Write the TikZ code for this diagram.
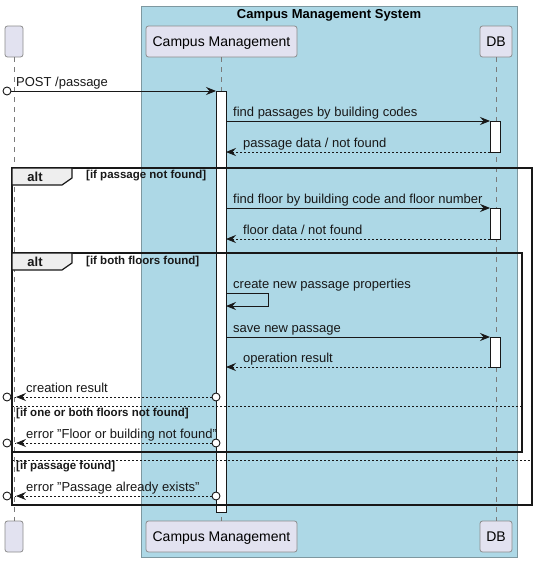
\documentclass[tikz,border=0pt]{standalone}
\usepackage{fontspec}
\setmainfont{Liberation Sans}
\usetikzlibrary{arrows.meta}
\definecolor{boxbg}{HTML}{ADD8E6}
\definecolor{boxline}{HTML}{7E98A0}
\definecolor{partfill}{HTML}{E2E2F0}
\definecolor{partline}{HTML}{8C8C8C}
\definecolor{tabfill}{HTML}{EEEEEE}
\definecolor{ink}{HTML}{181818}
\definecolor{lifeline}{HTML}{7A7A7A}

\begin{document}
\begin{tikzpicture}[x=1pt,y=-1pt,
  part/.style={draw=partline,fill=partfill,rounded corners=2.5pt,line width=0.8pt,
    inner sep=0pt,minimum height=31pt,text height=10.5pt,text depth=0pt,
    font=\fontsize{14}{16}\selectfont},
  life/.style={draw=lifeline,line width=0.8pt,dash pattern=on 5pt off 5pt},
  actbar/.style={draw=ink,fill=white,line width=0.9pt},
  msg/.style={draw=ink,line width=0.9pt,-{Stealth[length=10pt,width=8pt,inset=3.5pt]}},
  ret/.style={msg,dash pattern=on 2pt off 2pt},
  lbl/.style={anchor=base west,inner sep=0pt,font=\fontsize{13}{15}\selectfont,text=ink},
  endcirc/.style={draw=ink,fill=white,line width=0.9pt},
  frame/.style={draw=ink,line width=1.6pt},
  sep/.style={draw=ink,line width=0.9pt,dash pattern=on 2pt off 2pt},
  tab/.style={draw=ink,fill=tabfill,line width=1.2pt},
  tabtxt/.style={font=\bfseries\fontsize{13}{15}\selectfont,inner sep=0pt,text=ink},
  guard/.style={anchor=west,inner sep=0pt,font=\bfseries\fontsize{11.5}{13}\selectfont,text=ink}]
\useasboundingbox (0,0) rectangle (538,562);

% system box
\draw[fill=boxbg,draw=boxline,line width=0.8pt] (141,6) rectangle (517,557);
\node[font=\bfseries\fontsize{13}{15}\selectfont,inner sep=0pt] (systitle) at (329,15) {Campus Management System};

% participants (top and bottom)
\node[part,minimum width=18pt] (userTop) at (14,41.5) {};
\node[part,minimum width=151pt] (cmTop) at (221.5,41.5) {Campus Management};
\node[part,minimum width=32pt] (dbTop) at (496,41.5) {DB};
\node[part,minimum width=18pt] (userBot) at (14,536.5) {};
\node[part,minimum width=151pt] (cmBot) at (221.5,536.5) {Campus Management};
\node[part,minimum width=32pt] (dbBot) at (496,536.5) {DB};

% lifelines
\draw[life] (userTop.south) -- (userBot.north);
\draw[life] (cmTop.south) -- (cmBot.north);
\draw[life] (dbTop.south) -- (dbBot.north);

% activation bars
\draw[actbar] (216,91) rectangle (226,512);
\draw[actbar] (490,121) rectangle (500,152);
\draw[actbar] (490,208) rectangle (500,239);
\draw[actbar] (490,337) rectangle (500,367);

% message end points
\coordinate (m1a) at (7,91);    \coordinate (m1b) at (216,91);
\coordinate (m2a) at (226,121); \coordinate (m2b) at (490,121);
\coordinate (m3a) at (490,152); \coordinate (m3b) at (226,152);
\coordinate (m4a) at (226,208); \coordinate (m4b) at (490,208);
\coordinate (m5a) at (490,239); \coordinate (m5b) at (226,239);
\coordinate (m6a) at (226,293); \coordinate (m6b) at (226,306);
\coordinate (m7a) at (226,337); \coordinate (m7b) at (490,337);
\coordinate (m8a) at (490,367); \coordinate (m8b) at (226,367);
\coordinate (m9a) at (216,397); \coordinate (m9b) at (7,397);
\coordinate (m10a) at (216,443); \coordinate (m10b) at (7,443);
\coordinate (m11a) at (216,496); \coordinate (m11b) at (7,496);

% messages
\draw[msg] (m1a) -- (m1b);
\draw[endcirc] (m1a) circle (4pt);
\node[lbl] (t1) at (16,86) {POST /passage};

\draw[msg] (m2a) -- (m2b);
\node[lbl] (t2) at (233,116) {find passages by building codes};
\draw[ret] (m3a) -- (m3b);
\node[lbl] (t3) at (243,147) {passage data / not found};

\draw[msg] (m4a) -- (m4b);
\node[lbl] (t4) at (233,203) {find floor by building code and floor number};
\draw[ret] (m5a) -- (m5b);
\node[lbl] (t5) at (243,234) {floor data / not found};

\draw[msg] (m6a) -- (268,293) -- (268,306) -- (m6b);
\node[lbl] (t6) at (233,288) {create new passage properties};

\draw[msg] (m7a) -- (m7b);
\node[lbl] (t7) at (233,332) {save new passage};
\draw[ret] (m8a) -- (m8b);
\node[lbl] (t8) at (243,362) {operation result};

\draw[ret,shorten >=9pt] (m9a) -- (m9b);
\draw[sep] (m9b) -- ++(9,0);
\draw[endcirc] (m9a) circle (4pt);
\draw[endcirc] (m9b) circle (4pt);
\node[lbl] (t9) at (26,392) {creation result};

\draw[ret,shorten >=9pt] (m10a) -- (m10b);
\draw[sep] (m10b) -- ++(9,0);
\draw[endcirc] (m10a) circle (4pt);
\draw[endcirc] (m10b) circle (4pt);
\node[lbl] (t10) at (26,438) {error "Floor or building not found"};

\draw[ret,shorten >=9pt] (m11a) -- (m11b);
\draw[sep] (m11b) -- ++(9,0);
\draw[endcirc] (m11a) circle (4pt);
\draw[endcirc] (m11b) circle (4pt);
\node[lbl] (t11) at (26,491) {error "Passage already exists"};

% outer alt fragment
\draw[frame] (12,168) rectangle (532,505);
\draw[tab] (12,168) -- (72,168) -- (72,178) -- (62,185) -- (12,185) -- cycle;
\node[tabtxt] (alt1) at (35,176.5) {alt};
\node[guard] (g1) at (86,176) {[if passage not found]};
\draw[sep] (12,460) -- (532,460);
\node[guard] (g3) at (16,467) {[if passage found]};

% inner alt fragment
\draw[frame] (12,253) rectangle (522,452);
\draw[tab] (12,253) -- (72,253) -- (72,263) -- (62,270) -- (12,270) -- cycle;
\node[tabtxt] (alt2) at (35,261.5) {alt};
\node[guard] (g2) at (86,262) {[if both floors found]};
\draw[sep] (12,406) -- (522,406);
\node[guard] (g4) at (16,414) {[if one or both floors not found]};
\end{tikzpicture}
\end{document}
